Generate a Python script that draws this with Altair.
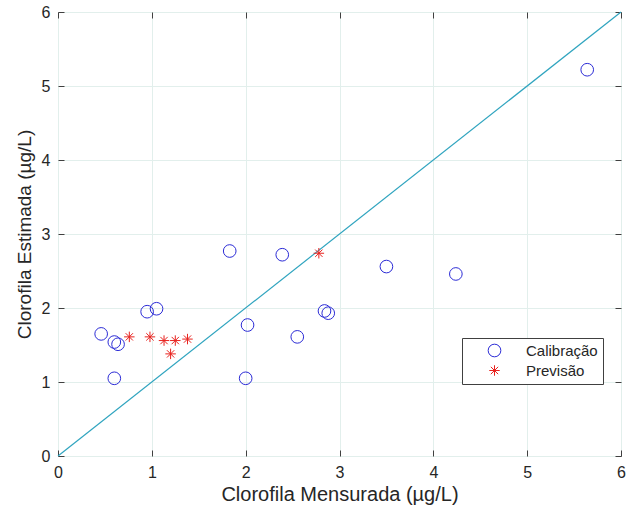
import altair as alt
import pandas as pd

# Calibração (circles)
cal_x = [0.46, 0.60, 0.64, 0.60, 0.95, 1.05, 1.83, 2.02, 2.00, 2.39, 2.55, 2.84, 2.88, 3.50, 4.24, 5.64]
cal_y = [1.65, 1.54, 1.51, 1.05, 1.95, 1.99, 2.77, 1.77, 1.05, 2.72, 1.61, 1.96, 1.93, 2.56, 2.46, 5.22]
# Previsão (asterisks)
prev_x = [0.76, 0.98, 1.13, 1.25, 1.38, 1.20, 2.78]
prev_y = [1.61, 1.61, 1.56, 1.56, 1.58, 1.38, 2.74]
# 1:1 line
line_x = [0, 6]
line_y = [0, 6]
series = ["Calibração", "Previsão"]
tick_vals = [0, 1, 2, 3, 4, 5, 6]

df = pd.DataFrame({
    "x": cal_x + prev_x,
    "y": cal_y + prev_y,
    "serie": [series[0]] * len(cal_x) + [series[1]] * len(prev_x),
})
line_df = pd.DataFrame({"x": line_x, "y": line_y})

STAR = "M-1,0L1,0M0,-1L0,1M-0.7,-0.7L0.7,0.7M-0.7,0.7L0.7,-0.7"
FONT = "Liberation Sans"

xscale = alt.Scale(domain=[0, 6], nice=False, zero=False)
yscale = alt.Scale(domain=[0, 6], nice=False, zero=False)

line = alt.Chart(line_df).mark_line(color="#2fa4bf", strokeWidth=1.2).encode(
    x=alt.X("x:Q", scale=xscale, axis=alt.Axis(
        orient="bottom", values=tick_vals, title="Clorofila Mensurada (µg/L)",
        offset=-6, tickSize=6, labelPadding=8, titlePadding=4, grid=True, domain=False,
        labelFlush=False, titleFontSize=20)),
    y=alt.Y("y:Q", scale=yscale, axis=alt.Axis(
        orient="left", values=tick_vals, title="Clorofila Estimada (µg/L)",
        offset=-6, tickSize=6, labelPadding=8, titlePadding=7, grid=True, domain=False,
        labelFlush=False, titleFontSize=19)),
)

leg = alt.Legend(
    title=None, orient="none", legendX=404, legendY=326,
    padding=5, rowPadding=4, symbolOffset=20, labelOffset=24,
    labelFontSize=15, labelFont=FONT, labelColor="#262626",
    strokeColor="#404040", fillColor="white", symbolStrokeWidth=1,
)

points = alt.Chart(df).mark_point(filled=False, strokeWidth=1, opacity=1).encode(
    x=alt.X("x:Q", scale=xscale, axis=alt.Axis(
        orient="top", values=tick_vals, labels=False, title="",
        offset=-6, tickSize=6, grid=False, domain=False)),
    y=alt.Y("y:Q", scale=yscale, axis=alt.Axis(
        orient="right", values=tick_vals, labels=False, title="",
        offset=-6, tickSize=6, grid=False, domain=False)),
    color=alt.Color("serie:N", scale=alt.Scale(domain=series, range=["#2b2bd6", "#e8221e"]), legend=leg),
    shape=alt.Shape("serie:N", scale=alt.Scale(domain=series, range=["circle", STAR]), legend=leg),
    size=alt.Size("serie:N", scale=alt.Scale(domain=series, range=[160, 110]), legend=leg),
)

chart = alt.layer(line, points).resolve_axis(
    x="independent", y="independent"
).properties(
    width=563, height=444,
    autosize=alt.AutoSizeParams(type="none"),
    padding={"left": 58, "top": 12, "right": 12, "bottom": 59},
    background="white",
).configure_view(
    stroke="#404040", strokeWidth=1
).configure_axis(
    labelFont=FONT, titleFont=FONT, labelFontSize=16,
    labelColor="#262626", titleColor="#262626", titleFontWeight="normal",
    tickColor="#404040", tickWidth=1, gridColor="#e2efec", gridWidth=1,
)

chart.save("out.html", embed_options={"renderer": "svg", "actions": False})
